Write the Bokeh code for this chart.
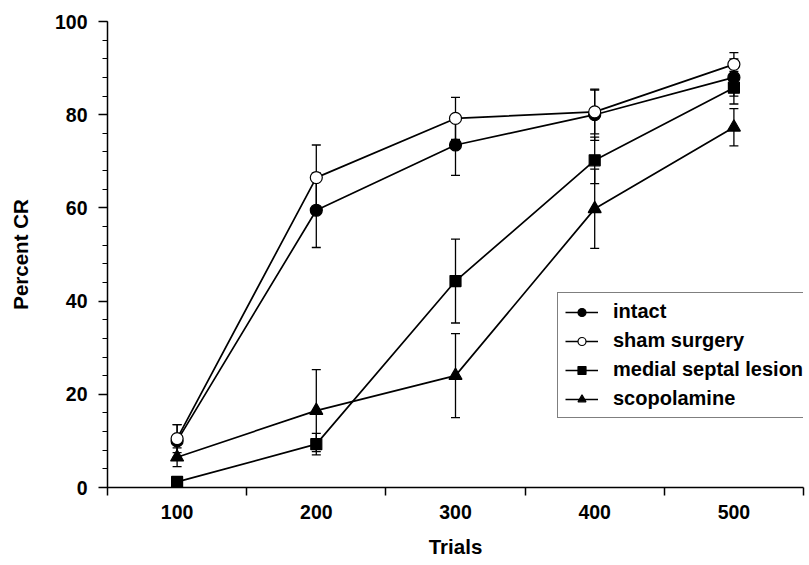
from bokeh.plotting import figure
from bokeh.models import (ColumnDataSource, FixedTicker, Whisker, TeeHead,
                          Legend, LegendItem, Range1d)
from bokeh.embed import file_html
from bokeh.resources import INLINE

# ---- data ----
trials = ["100", "200", "300", "400", "500"]
xpos = [1, 2, 3, 4, 5]

intact = [10.0, 59.5, 73.5, 80.0, 88.0]
intact_err = [3.5, 8.0, 6.5, 5.5, 4.0]

sham = [10.5, 66.5, 79.2, 80.6, 90.8]
sham_err = [3.0, 7.0, 4.5, 4.7, 2.5]

medial = [1.2, 9.3, 44.3, 70.2, 85.8]
medial_err = [0.8, 2.3, 9.0, 5.0, 3.5]

scopolamine = [6.5, 16.5, 24.0, 59.8, 77.3]
scopolamine_err = [2.0, 8.8, 9.0, 8.5, 4.0]

y_ticks = [0, 20, 40, 60, 80, 100]
y_minor = list(range(0, 101, 4))

FONT = "Liberation Sans"

p = figure(width=809, height=565, output_backend="svg", toolbar_location=None,
           x_range=Range1d(0.5, 5.5), y_range=Range1d(0, 100),
           min_border_left=107, min_border_right=6, min_border_top=21,
           min_border_bottom=78)
p.outline_line_color = None
p.xgrid.visible = False
p.ygrid.visible = False
p.background_fill_color = "white"
p.border_fill_color = "white"

series = [
    ("intact", intact, intact_err, "circle", "black"),
    ("sham surgery", sham, sham_err, "circle", "white"),
    ("medial septal lesion", medial, medial_err, "square", "black"),
    ("scopolamine", scopolamine, scopolamine_err, "triangle", "black"),
]

items = []
for name, vals, errs, marker, fill in series:
    src = ColumnDataSource(dict(
        x=xpos, y=vals,
        upper=[v + e for v, e in zip(vals, errs)],
        lower=[v - e for v, e in zip(vals, errs)],
    ))
    w = Whisker(source=src, base="x", upper="upper", lower="lower",
                line_color="black", line_width=1.3,
                upper_head=TeeHead(size=9, line_color="black", line_width=1.3),
                lower_head=TeeHead(size=9, line_color="black", line_width=1.3))
    p.add_layout(w)
    ln = p.line("x", "y", source=src, line_color="black", line_width=1.7)
    size = {"circle": 12, "square": 11, "triangle": 13}[marker]
    sc = p.scatter("x", "y", source=src, marker=marker, size=size,
                   fill_color=fill, line_color="black", line_width=1.2)
    items.append(LegendItem(label=name, renderers=[ln, sc]))

legend = Legend(items=items, location=(450, 69),
                label_text_font=FONT, label_text_font_style="bold",
                label_text_font_size="20px", label_text_color="black",
                glyph_width=33, glyph_height=20, label_height=20,
                label_standoff=15, spacing=6, padding=7, margin=0,
                border_line_color="black", border_line_width=1.5,
                background_fill_color="white", background_fill_alpha=1.0)
p.add_layout(legend, "center")

# y axis
ya = p.yaxis[0]
ya.ticker = FixedTicker(ticks=y_ticks, minor_ticks=y_minor)
ya.axis_label = "Percent CR"
ya.axis_label_text_font = FONT
ya.axis_label_text_font_style = "bold"
ya.axis_label_text_font_size = "20.5px"
ya.axis_label_text_color = "black"
ya.axis_label_standoff = 20
ya.major_label_text_font = FONT
ya.major_label_text_font_style = "bold"
ya.major_label_text_font_size = "19.5px"
ya.major_label_text_color = "black"
ya.major_label_standoff = 11
ya.major_tick_out = 9
ya.major_tick_in = 0
ya.minor_tick_out = 5
ya.minor_tick_in = 0
ya.axis_line_color = "black"
ya.major_tick_line_color = "black"
ya.minor_tick_line_color = "black"
ya.axis_line_width = 1.5
ya.major_tick_line_width = 1.5
ya.minor_tick_line_width = 1.2

# x axis
xa = p.xaxis[0]
xa.ticker = FixedTicker(ticks=xpos, minor_ticks=[0.5, 1.5, 2.5, 3.5, 4.5, 5.5])
xa.major_label_overrides = {x: t for x, t in zip(xpos, trials)}
xa.axis_label = "Trials"
xa.axis_label_text_font = FONT
xa.axis_label_text_font_style = "bold"
xa.axis_label_text_font_size = "20.5px"
xa.axis_label_text_color = "black"
xa.axis_label_standoff = 13
xa.major_label_text_font = FONT
xa.major_label_text_font_style = "bold"
xa.major_label_text_font_size = "19.5px"
xa.major_label_text_color = "black"
xa.major_label_standoff = 9
xa.major_tick_out = 0
xa.major_tick_in = 0
xa.minor_tick_out = 8
xa.minor_tick_in = 0
xa.axis_line_color = "black"
xa.minor_tick_line_color = "black"
xa.axis_line_width = 1.5
xa.minor_tick_line_width = 1.5

open("out.html", "w").write(file_html(p, INLINE))
